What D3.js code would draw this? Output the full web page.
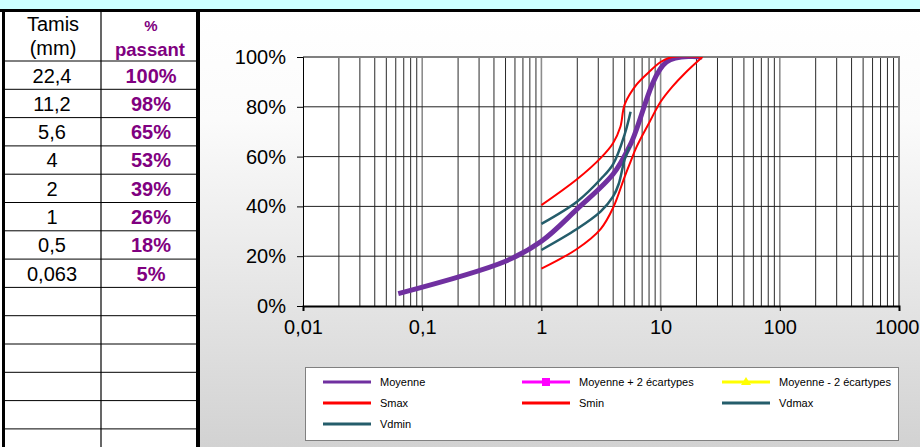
<!DOCTYPE html>
<html>
<head>
<meta charset="utf-8">
<script src="https://cdn.jsdelivr.net/npm/d3@7"></script>
<style>
  body { margin: 0; background: #fff; }
  svg { display: block; font-family: Arial, "Liberation Sans", sans-serif; }
</style>
</head>
<body>
<svg id="chart" width="920" height="447"></svg>
<script>
// sieve table
const tamis = [22.4, 11.2, 5.6, 4, 2, 1, 0.5, 0.063];
const passant = [100, 98, 65, 53, 39, 26, 18, 5];

// reference envelopes
const smax = [[1, 40.5], [2, 51], [3.15, 59.5], [4, 65.5], [4.6, 72], [5, 81], [6.3, 89], [8, 94], [10, 98], [12.5, 100], [22.4, 100]];
const smin = [[1, 15], [2, 23], [3.15, 31], [4, 39.5], [5, 52], [5.6, 58], [6.3, 64], [8, 73.5], [10, 82], [12.5, 88], [16, 93.5], [22.4, 100]];
const vdmax = [[1, 33], [2, 42], [3.15, 51], [4, 57], [5, 69], [5.6, 78]];
const vdmin = [[1, 22.5], [2, 31], [3.15, 38], [4, 44], [4.45, 49], [5, 59], [5.5, 64]];
const moyPlus = [];
const moyMoins = [];

const xTicks = [0.01, 0.1, 1, 10, 100, 1000];
const xTickLabels = ["0,01", "0,1", "1", "10", "100", "1000"];
const yTicks = [0, 20, 40, 60, 80, 100];
const yTickLabels = ["0%", "20%", "40%", "60%", "80%", "100%"];

const moyenne = tamis.map((t, i) => [t, passant[i]]).sort((a, b) => a[0] - b[0]);

const series = [
  { name: "Moyenne", data: moyenne, color: "#7030a0", width: 5 },
  { name: "Moyenne + 2 écartypes", data: moyPlus, color: "#ff00ff", width: 2.5, marker: "square" },
  { name: "Moyenne - 2 écartypes", data: moyMoins, color: "#ffff00", width: 2.5, marker: "triangle" },
  { name: "Smax", data: smax, color: "#ff0000", width: 2 },
  { name: "Smin", data: smin, color: "#ff0000", width: 2 },
  { name: "Vdmax", data: vdmax, color: "#245d6b", width: 2.5 },
  { name: "Vdmin", data: vdmin, color: "#245d6b", width: 2.5 }
];

const svg = d3.select("#chart");
const font = "Arial, 'Liberation Sans', sans-serif";

// chart background gradient
const defs = svg.append("defs");
const grad = defs.append("linearGradient").attr("id", "bg")
  .attr("x1", 0).attr("y1", 0).attr("x2", 0).attr("y2", 1);
grad.append("stop").attr("offset", "0%").attr("stop-color", "#ffffff");
grad.append("stop").attr("offset", "25%").attr("stop-color", "#fbfbfb");
grad.append("stop").attr("offset", "100%").attr("stop-color", "#d2d2d2");

svg.append("rect").attr("x", 200).attr("y", 10).attr("width", 720).attr("height", 437)
  .attr("fill", "url(#bg)");

// top band
svg.append("rect").attr("x", 0).attr("y", 0).attr("width", 920).attr("height", 9).attr("fill", "#ccffff");
svg.append("rect").attr("x", 0).attr("y", 9).attr("width", 920).attr("height", 3).attr("fill", "#000");

// ---- left table ----
const table = svg.append("g");
const rowTop = 61, rowH = 28.3, nRows = 14;
for (let i = 0; i < nRows; i++) {
  const y = rowTop + i * rowH;
  table.append("line").attr("x1", 5).attr("x2", 197).attr("y1", y).attr("y2", y)
    .attr("stroke", "#000").attr("stroke-width", 1);
}
table.append("line").attr("x1", 101).attr("x2", 101).attr("y1", 12).attr("y2", 447)
  .attr("stroke", "#000").attr("stroke-width", 1.2);
table.append("rect").attr("x", 2).attr("y", 10).attr("width", 3).attr("height", 437).attr("fill", "#000");
table.append("rect").attr("x", 196).attr("y", 10).attr("width", 4).attr("height", 437).attr("fill", "#000");

table.append("text").attr("x", 53).attr("y", 31).attr("text-anchor", "middle")
  .attr("font-size", 20).text("Tamis");
table.append("text").attr("x", 53).attr("y", 55).attr("text-anchor", "middle")
  .attr("font-size", 20).text("(mm)");
table.append("text").attr("x", 151).attr("y", 31).attr("text-anchor", "middle")
  .attr("font-size", 15).attr("font-weight", "bold").attr("fill", "#800080").text("%");
table.append("text").attr("x", 150).attr("y", 56).attr("text-anchor", "middle")
  .attr("font-size", 18.5).attr("font-weight", "bold").attr("fill", "#800080").text("passant");

tamis.forEach((t, i) => {
  const base = rowTop + i * rowH + 21.5;
  table.append("text").attr("x", 52).attr("y", base).attr("text-anchor", "middle")
    .attr("font-size", 20).text(String(t).replace(".", ","));
  table.append("text").attr("x", 151).attr("y", base).attr("text-anchor", "middle")
    .attr("font-size", 20).attr("font-weight", "bold").attr("fill", "#800080").text(passant[i] + "%");
});

// ---- plot ----
const x = d3.scaleLog().domain([0.01, 1000]).range([303, 899]);
const y = d3.scaleLinear().domain([0, 100]).range([306, 57]);

svg.append("rect").attr("x", 303).attr("y", 57).attr("width", 596).attr("height", 249).attr("fill", "#fff");
defs.append("clipPath").attr("id", "plotclip").append("rect")
  .attr("x", 303).attr("y", 57).attr("width", 596).attr("height", 249);

// vertical grid
const minor = [];
for (let e = -2; e < 3; e++) {
  for (let d = 1; d <= 9; d++) minor.push(d * Math.pow(10, e));
}
const isDecade = v => xTicks.some(t => Math.abs(t - v) < 1e-9);
svg.append("g").selectAll("line").data(minor.filter(v => v > 0.01 && v < 1000)).join("line")
  .attr("x1", d => x(d)).attr("x2", d => x(d)).attr("y1", 57).attr("y2", 306)
  .attr("stroke", d => isDecade(d) ? "#8c8c8c" : "#2a2a2a")
  .attr("stroke-width", d => isDecade(d) ? 1.6 : 1);

// horizontal grid
svg.append("g").selectAll("line").data(yTicks.slice(1, -1)).join("line")
  .attr("x1", 303).attr("x2", 899).attr("y1", d => y(d)).attr("y2", d => y(d))
  .attr("stroke", "#222").attr("stroke-width", 1);

// plot border top / right
svg.append("path").attr("d", `M303,${y(100)}H${x(1000)}V306`)
  .attr("fill", "none").attr("stroke", "#808080").attr("stroke-width", 2);

// axes
const yAxis = d3.axisLeft(y).tickValues(yTicks).tickSize(6).tickFormat((d, i) => yTickLabels[i]);
const gy = svg.append("g").attr("transform", "translate(303,0)").call(yAxis);
gy.select(".domain").attr("stroke", "#000");
gy.selectAll("text").attr("font-size", 20).attr("font-family", font)
  .attr("fill", "#000").attr("x", -17);

const xAxis = d3.axisBottom(x).tickValues(xTicks).tickSize(5).tickFormat((d, i) => xTickLabels[i]);
const gx = svg.append("g").attr("transform", "translate(0,306)").call(xAxis);
gx.select(".domain").attr("stroke", "#000").attr("stroke-width", 2);
gx.selectAll("text").attr("font-size", 20).attr("font-family", font)
  .attr("fill", "#000").attr("y", 14);
// last label sits against the right edge
gx.selectAll(".tick").filter(d => d === 1000).select("text")
  .attr("text-anchor", "end").attr("x", 920 - 1 - x(1000));

// series
const line = d3.line().x(d => x(d[0])).y(d => y(d[1])).curve(d3.curveCatmullRom.alpha(0.5));
svg.append("g").attr("clip-path", "url(#plotclip)")
  .selectAll("path").data(series.filter(s => s.data.length)).join("path")
  .attr("d", s => line(s.data))
  .attr("fill", "none")
  .attr("stroke", s => s.color)
  .attr("stroke-width", s => s.width)
  .attr("stroke-linejoin", "round")
  .attr("stroke-linecap", "butt");

// ---- legend ----
const lg = svg.append("g");
lg.append("rect").attr("x", 305.5).attr("y", 367.5).attr("width", 593).attr("height", 73)
  .attr("fill", "#fff").attr("stroke", "#808080").attr("stroke-width", 1);
const colX = [323, 522, 722];
const rowY = [382, 403, 424];
series.forEach((s, i) => {
  const cx = colX[i % 3], cy = rowY[Math.floor(i / 3)];
  const g = lg.append("g");
  g.append("line").attr("x1", cx).attr("x2", cx + 48).attr("y1", cy).attr("y2", cy)
    .attr("stroke", s.color).attr("stroke-width", 3);
  if (s.marker === "square") {
    g.append("rect").attr("x", cx + 20).attr("y", cy - 4).attr("width", 8).attr("height", 8).attr("fill", s.color);
  } else if (s.marker === "triangle") {
    g.append("path").attr("d", `M${cx + 24},${cy - 5}L${cx + 29},${cy + 3}L${cx + 19},${cy + 3}Z`).attr("fill", s.color);
  }
  g.append("text").attr("x", cx + 57).attr("y", cy + 4).attr("font-size", 11).attr("fill", "#000").text(s.name);
});
</script>
</body>
</html>
